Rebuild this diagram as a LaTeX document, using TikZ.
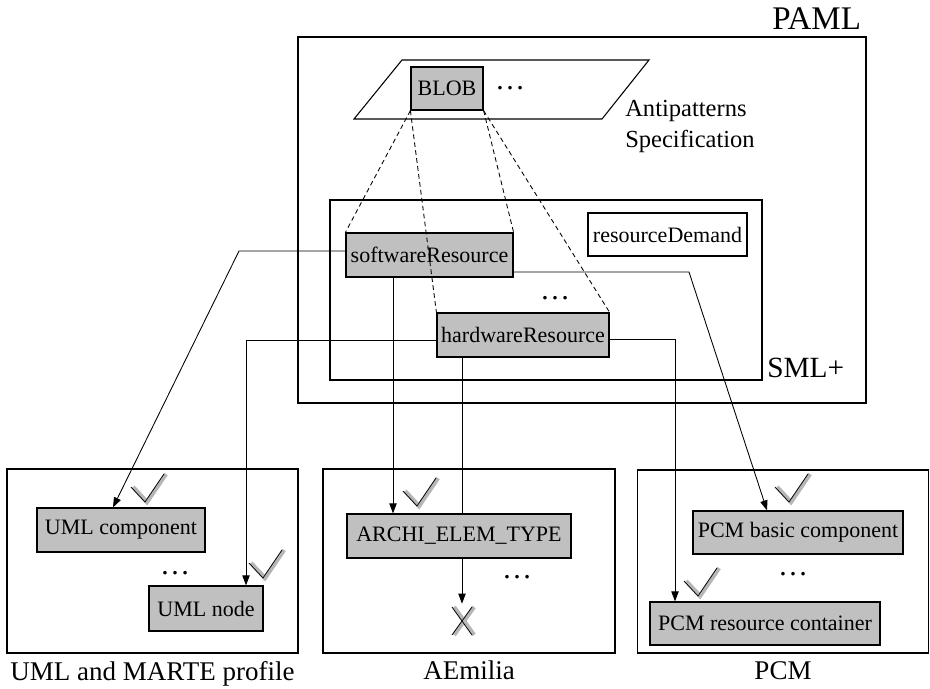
\documentclass[tikz,border=0pt]{standalone}
\usepackage{fontspec}
\setmainfont{Liberation Serif}
\usetikzlibrary{arrows.meta,calc}
\definecolor{elemgray}{RGB}{192,192,192}
\definecolor{shadowgray}{RGB}{182,182,182}
\tikzset{
  pxsize/.style 2 args={minimum width=#1*0.75pt, minimum height=#2*0.75pt},
  boxtext/.style={font=\fontsize{16.5}{19}\selectfont},
  elem/.style={draw, line width=0.9pt, fill=elemgray, inner sep=0pt, boxtext},
  plainbox/.style={draw, line width=0.9pt, fill=white, inner sep=0pt, boxtext},
  frame/.style={draw, line width=1pt, inner sep=0pt},
  caption/.style={font=\fontsize{20.25}{24}\selectfont, anchor=base, inner sep=0pt},
  dots/.style={font=\fontsize{22.5}{24}\selectfont, inner sep=0pt, anchor=base},
  conn/.style={line width=0.65pt, -{Triangle[length=7.5pt,width=5.5pt]}},
  link/.style={line width=0.65pt},
  trace/.style={line width=0.65pt, dash pattern=on 3.5pt off 2.5pt},
  tick/.pic={
    \draw[shadowgray, line width=3.2pt, line join=miter]
      (-12,-15) -- (2,0) -- (21,-28);
    \draw[black, line width=0.55pt] (-14,-15) -- (0,0) -- (19,-28);
  },
  cross/.pic={
    \draw[shadowgray, line width=3.2pt] (-8,-14) -- (12,14) (12,-14) -- (-8,14);
    \draw[black, line width=0.55pt] (-10,-14) -- (10,14) (10,-14) -- (-10,14);
  }
}
\begin{document}
\begin{tikzpicture}[x=0.75pt,y=-0.75pt]
\useasboundingbox (0,0) rectangle (930,688);

% PAML frame and its title
\node[frame, line width=1.6pt, pxsize={568}{366}] (paml) at (582,220) {};
\node[font=\fontsize{24.75}{28}\selectfont, anchor=base west, inner sep=0pt]
  (pamltitle) at (772,30) {PAML};

% antipattern specification plane
\draw[line width=0.8pt, fill=white] (402,60) -- (649,60) -- (602,119) -- (354,119) -- cycle;
\node[elem, pxsize={72}{43}] (blob) at (447,88.5) {BLOB};
\node[dots] (blobdots) at (510,90) {…};
\node[font=\fontsize{18.4}{22}\selectfont, anchor=base west, inner sep=0pt]
  (antiA) at (625,117) {Antipatterns};
\node[font=\fontsize{18.4}{22}\selectfont, anchor=base west, inner sep=0pt]
  (antiB) at (625,147) {Specification};

% SML+ frame
\node[frame, line width=0.9pt, pxsize={432}{180}] (sml) at (546,290) {};
\node[font=\fontsize{22}{26}\selectfont, anchor=base west, inner sep=0pt]
  (smltitle) at (767,377) {SML+};
\node[elem, pxsize={167}{44}] (sw) at (429.5,255) {softwareResource};
\node[elem, pxsize={172}{44}] (hw) at (523,335) {hardwareResource};
\node[plainbox, pxsize={159}{43}] (rd) at (667.5,234.5) {resourceDemand};
\node[dots] (smldots) at (555,299) {…};

% target notations
\node[frame, pxsize={291}{184}] (umlbox) at (152.5,561) {};
\node[frame, pxsize={292}{184}] (aebox) at (469,561) {};
\node[frame, pxsize={291}{183}] (pcmbox) at (783,561.5) {};
\node[caption] (umlcap) at (152.5,680) {UML and MARTE profile};
\node[caption] (aecap) at (469,679) {AEmilia};
\node[caption] (pcmcap) at (783,679) {PCM};

\node[elem, pxsize={168}{44}] (umlcomp) at (121,530) {UML component};
\node[elem, pxsize={114}{45}] (umlnode) at (206,608.5) {UML node};
\node[dots] (umldots) at (175,574) {…};

\node[elem, pxsize={224}{44}] (archi) at (459,536) {ARCHI\_ELEM\_TYPE};
\node[dots] (aedots) at (517,578) {…};
\coordinate (fail) at (462,621);

\node[elem, pxsize={210}{43}] (pcmbasic) at (798,532.5) {PCM basic component};
\node[elem, pxsize={230}{43}] (pcmres) at (765,623.5) {PCM resource container};
\node[dots] (pcmdots) at (793,575) {…};

% antipattern traces
\draw[trace] (blob.south west) -- (sw.north west);
\draw[trace] (blob.south west) -- (hw.north west);
\draw[trace] (blob.south east) -- (sw.north east);
\draw[trace] (blob.south east) -- (hw.north east);

% mappings to the target notations
\draw[conn] (sw.west |- 0,251) -- (239,251) -- (umlcomp.north -| 113,0);
\draw[conn] (sw.south -| 393,0) -- (archi.north -| 393,0);
\draw[conn] (sw.east |- 0,272) -- (689,272) -- (pcmbasic.north -| 767,0);
\draw[conn] (hw.west |- 0,340) -- (246,340) -- (umlnode.north -| 246,0);
\draw[link] (hw.south -| 462,0) -- (archi.north -| 462,0);
\draw[conn] (hw.east |- 0,339) -- (675,339) -- (pcmres.north -| 675,0);
\draw[conn] (archi.south -| fail) -- ([yshift=13pt]fail);

% support marks
\pic at (145,502) {tick};
\pic at (263,578) {tick};
\pic at (417,506) {tick};
\pic at (789,502) {tick};
\pic at (698,596) {tick};
\pic at (fail) {cross};
\end{tikzpicture}
\end{document}
